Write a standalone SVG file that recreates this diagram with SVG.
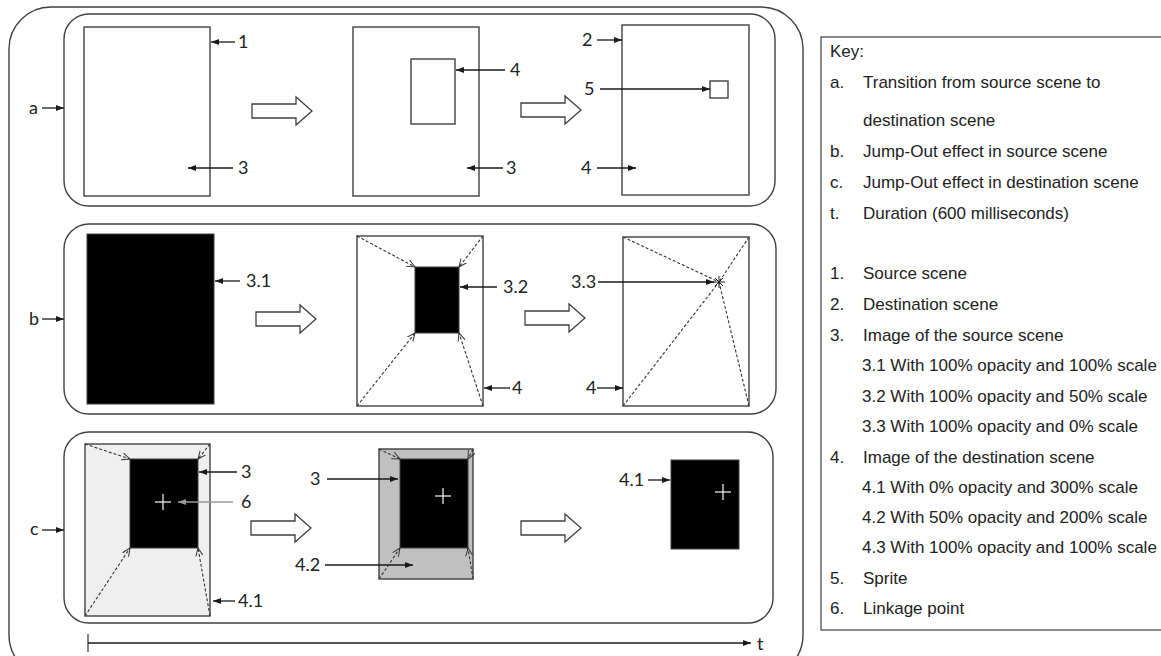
<svg xmlns="http://www.w3.org/2000/svg" width="1161" height="656" viewBox="0 0 1161 656">
  <style>
    .frame { fill: none; stroke: #404040; stroke-width: 1.4; }
    .scene { fill: #fff; stroke: #404040; stroke-width: 1.4; }
    .img { fill: #000; stroke: #404040; stroke-width: 1; }
    .ptr { stroke: #1a1a1a; stroke-width: 1.3; fill: none; marker-end: url(#ah); }
    .ptr-gray { stroke: #9a9a9a; stroke-width: 1.3; fill: none; marker-end: url(#ahg); }
    .dash { stroke: #333; stroke-width: 1.1; stroke-dasharray: 3 2; fill: none; marker-end: url(#oh); }
    .dline { stroke: #333; stroke-width: 1.1; stroke-dasharray: 3 2; fill: none; }
    .big { fill: #fff; stroke: #404040; stroke-width: 1.3; }
    .lbl { font-family: Lato, "Open Sans", sans-serif; font-size: 18px; fill: #222; }
    .key { font-family: "Liberation Sans", Arial, sans-serif; font-size: 17px; fill: #222; }
    .cross { stroke: #e8e8e8; stroke-width: 1.3; }
  </style>
  <defs>
    <marker id="ah" viewBox="0 0 8 6" refX="8" refY="3" markerWidth="8" markerHeight="6" markerUnits="userSpaceOnUse" orient="auto">
      <path d="M0,0 L8,3 L0,6 z" fill="#1a1a1a"/>
    </marker>
    <marker id="ahg" viewBox="0 0 8 6" refX="8" refY="3" markerWidth="8" markerHeight="6" markerUnits="userSpaceOnUse" orient="auto">
      <path d="M0,0 L8,3 L0,6 z" fill="#9a9a9a"/>
    </marker>
    <marker id="oh" viewBox="0 0 10 10" refX="9" refY="5" markerWidth="9" markerHeight="9" markerUnits="userSpaceOnUse" orient="auto">
      <path d="M0,1 L9,5 L0,9" fill="none" stroke="#333" stroke-width="1.1"/>
    </marker>
    <!-- hollow block arrow, origin at tail centre -->
    <path id="bigArrow" d="M0,-7 H44 V-14 L60,0 L44,14 V7 H0 Z"/>
  </defs>

  <!-- outer frame -->
  <rect class="frame" x="9" y="7" width="794" height="670" rx="42"/>

  <!-- row a: transition -->
  <g id="row-a">
    <rect class="frame" x="64" y="14" width="711" height="192" rx="25"/>
    <rect class="scene" x="84" y="27" width="126" height="169"/>
    <rect class="scene" x="353" y="27" width="126" height="169"/>
    <rect class="scene" x="411" y="59" width="44" height="65"/>
    <rect class="scene" x="622" y="25" width="127" height="170"/>
    <rect class="scene" x="710" y="81" width="18" height="17"/>
    <use href="#bigArrow" class="big" x="252" y="111"/>
    <use href="#bigArrow" class="big" x="521" y="110"/>
    <text class="lbl" x="29" y="114">a</text>
    <text class="lbl" x="238" y="48">1</text>
    <text class="lbl" x="238" y="174">3</text>
    <text class="lbl" x="510" y="76">4</text>
    <text class="lbl" x="506" y="174">3</text>
    <text class="lbl" x="582" y="46">2</text>
    <text class="lbl" x="584" y="95">5</text>
    <text class="lbl" x="581" y="174">4</text>
  </g>

  <!-- row b: jump-out in source scene -->
  <g id="row-b">
    <rect class="frame" x="64" y="224" width="712" height="190" rx="25"/>
    <rect class="img" x="87" y="234" width="127" height="170"/>
    <rect class="scene" x="357" y="236" width="126" height="170"/>
    <rect class="img" x="415" y="267" width="44" height="66"/>
    <rect class="scene" x="623" y="237" width="126" height="169"/>
    <use href="#bigArrow" class="big" x="256" y="319"/>
    <use href="#bigArrow" class="big" x="525" y="318"/>
    <text class="lbl" x="29" y="325">b</text>
    <text class="lbl" x="246" y="287">3.1</text>
    <text class="lbl" x="503" y="293">3.2</text>
    <text class="lbl" x="512" y="394">4</text>
    <text class="lbl" x="571" y="288">3.3</text>
    <text class="lbl" x="586" y="394">4</text>
  </g>

  <!-- row c: jump-out in destination scene -->
  <g id="row-c">
    <rect class="frame" x="64" y="432" width="709" height="191" rx="25"/>
    <rect x="85" y="444" width="125" height="172" fill="#efefef" stroke="#404040" stroke-width="1.4"/>
    <rect class="img" x="130" y="459" width="68" height="89"/>
    <line class="cross" x1="155" y1="502" x2="171" y2="502"/>
    <line class="cross" x1="163" y1="494" x2="163" y2="510"/>
    <rect x="379" y="449" width="94" height="130" fill="#c0c0c0" stroke="#404040" stroke-width="1.4"/>
    <rect class="img" x="400" y="459" width="68" height="89"/>
    <line class="cross" x1="435" y1="496" x2="451" y2="496"/>
    <line class="cross" x1="443" y1="488" x2="443" y2="504"/>
    <rect class="img" x="671" y="460" width="68" height="89"/>
    <line class="cross" x1="715" y1="492" x2="731" y2="492"/>
    <line class="cross" x1="723" y1="484" x2="723" y2="500"/>
    <use href="#bigArrow" class="big" x="251" y="528"/>
    <use href="#bigArrow" class="big" x="521" y="528"/>
    <text class="lbl" x="30" y="535">c</text>
    <text class="lbl" x="241" y="478">3</text>
    <text class="lbl" x="241" y="508">6</text>
    <text class="lbl" x="238" y="607">4.1</text>
    <text class="lbl" x="310" y="485">3</text>
    <text class="lbl" x="295" y="571">4.2</text>
    <text class="lbl" x="619" y="486">4.1</text>
  </g>

  <!-- timeline -->
  <g id="timeline">
    <line x1="88" y1="634" x2="88" y2="652" stroke="#404040" stroke-width="1.3"/>
    <line class="ptr" x1="88" y1="643" x2="751" y2="643"/>
    <text class="lbl" x="757" y="650">t</text>
  </g>

  <!-- pointers and motion paths -->
  <g id="connectors">
    <line class="ptr" x1="42" y1="108" x2="64" y2="108"/>
    <line class="ptr" x1="235" y1="42" x2="211" y2="42"/>
    <line class="ptr" x1="233" y1="168" x2="188" y2="168"/>
    <line class="ptr" x1="505" y1="70" x2="456" y2="70"/>
    <line class="ptr" x1="503" y1="168" x2="467" y2="168"/>
    <line class="ptr" x1="597" y1="40" x2="622" y2="40"/>
    <line class="ptr" x1="600" y1="89" x2="710" y2="89"/>
    <line class="ptr" x1="597" y1="168" x2="636" y2="168"/>

    <line class="ptr" x1="42" y1="319" x2="64" y2="319"/>
    <line class="ptr" x1="240" y1="281" x2="215" y2="281"/>
    <line class="ptr" x1="497" y1="287" x2="460" y2="287"/>
    <line class="ptr" x1="510" y1="388" x2="484" y2="388"/>
    <line class="ptr" x1="598" y1="282" x2="714" y2="282"/>
    <line class="ptr" x1="597" y1="388" x2="623" y2="388"/>
    <line class="dash" x1="357" y1="236" x2="415" y2="267"/>
    <line class="dash" x1="483" y1="236" x2="459" y2="267"/>
    <line class="dash" x1="357" y1="406" x2="415" y2="333"/>
    <line class="dash" x1="483" y1="406" x2="459" y2="333"/>
    <line class="dline" x1="623" y1="237" x2="719" y2="282"/>
    <line class="dline" x1="749" y1="237" x2="719" y2="282"/>
    <line class="dline" x1="623" y1="406" x2="719" y2="282"/>
    <line class="dline" x1="749" y1="406" x2="719" y2="282"/>
    <g stroke="#222" stroke-width="1">
      <line x1="713" y1="282" x2="725" y2="282"/>
      <line x1="719" y1="276" x2="719" y2="288"/>
      <line x1="715" y1="278" x2="723" y2="286"/>
      <line x1="723" y1="278" x2="715" y2="286"/>
    </g>

    <line class="ptr" x1="42" y1="530" x2="64" y2="530"/>
    <line class="ptr" x1="237" y1="472" x2="199" y2="472"/>
    <line class="ptr-gray" x1="233" y1="502" x2="178" y2="502"/>
    <line class="ptr" x1="235" y1="601" x2="213" y2="601"/>
    <line class="ptr" x1="327" y1="479" x2="398" y2="479"/>
    <line class="ptr" x1="325" y1="565" x2="413" y2="565"/>
    <line class="ptr" x1="648" y1="480" x2="670" y2="480"/>
    <line class="dash" x1="85" y1="444" x2="130" y2="459"/>
    <line class="dash" x1="210" y1="444" x2="198" y2="459"/>
    <line class="dash" x1="85" y1="616" x2="130" y2="548"/>
    <line class="dash" x1="210" y1="616" x2="198" y2="548"/>
    <line class="dash" x1="379" y1="449" x2="400" y2="459"/>
    <line class="dash" x1="473" y1="449" x2="468" y2="459"/>
    <line class="dash" x1="379" y1="579" x2="400" y2="548"/>
    <line class="dash" x1="473" y1="579" x2="468" y2="548"/>
  </g>

  <!-- key -->
  <g id="key">
    <rect x="821" y="37" width="350" height="593" fill="#fff" stroke="#404040" stroke-width="1.2"/>
    <text class="key" x="830" y="57">Key:</text>
    <text class="key" x="830" y="88">a.</text>
    <text class="key" x="863" y="88">Transition from source scene to</text>
    <text class="key" x="863" y="126">destination scene</text>
    <text class="key" x="830" y="157">b.</text>
    <text class="key" x="863" y="157">Jump-Out effect in source scene</text>
    <text class="key" x="830" y="188">c.</text>
    <text class="key" x="863" y="188">Jump-Out effect in destination scene</text>
    <text class="key" x="830" y="219">t.</text>
    <text class="key" x="863" y="219">Duration (600 milliseconds)</text>
    <text class="key" x="830" y="279">1.</text>
    <text class="key" x="863" y="279">Source scene</text>
    <text class="key" x="830" y="310">2.</text>
    <text class="key" x="863" y="310">Destination scene</text>
    <text class="key" x="830" y="341">3.</text>
    <text class="key" x="863" y="341">Image of the source scene</text>
    <text class="key" x="862" y="371">3.1 With 100% opacity and 100% scale</text>
    <text class="key" x="862" y="402">3.2 With 100% opacity and 50% scale</text>
    <text class="key" x="862" y="432">3.3 With 100% opacity and 0% scale</text>
    <text class="key" x="830" y="463">4.</text>
    <text class="key" x="863" y="463">Image of the destination scene</text>
    <text class="key" x="862" y="493">4.1 With 0% opacity and 300% scale</text>
    <text class="key" x="862" y="523">4.2 With 50% opacity and 200% scale</text>
    <text class="key" x="862" y="553">4.3 With 100% opacity and 100% scale</text>
    <text class="key" x="830" y="584">5.</text>
    <text class="key" x="863" y="584">Sprite</text>
    <text class="key" x="830" y="614">6.</text>
    <text class="key" x="863" y="614">Linkage point</text>
  </g>
</svg>
